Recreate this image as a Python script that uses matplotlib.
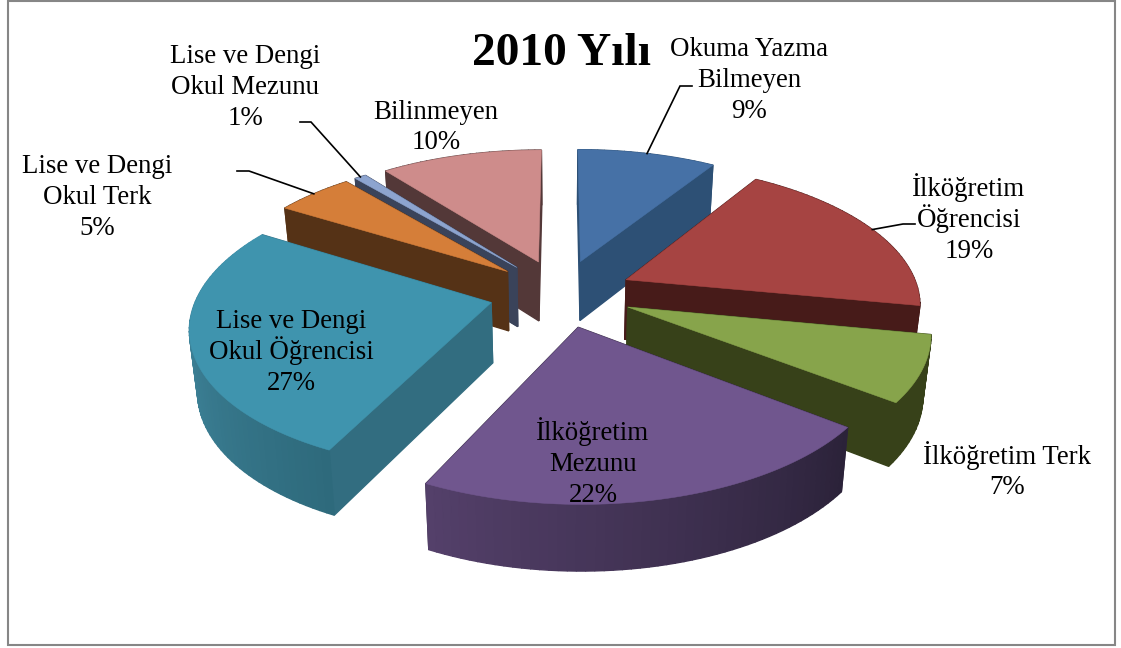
import numpy as np
import matplotlib
matplotlib.use("Agg")
import matplotlib.pyplot as plt
from matplotlib.colors import to_rgb
from matplotlib.patches import Polygon, Rectangle

title = "2010 Yılı"
categories = ["Okuma Yazma\nBilmeyen", "İlköğretim\nÖğrencisi", "İlköğretim Terk", "İlköğretim\nMezunu",
              "Lise ve Dengi\nOkul Öğrencisi", "Lise ve Dengi\nOkul Terk", "Lise ve Dengi\nOkul Mezunu", "Bilinmeyen"]
values = [9.0, 19.0, 7.4, 21.8, 26.51, 5.04, 0.75, 10.5]
top_colors = ["#4671A6", "#A64442", "#87A44B", "#70568E", "#3F94AE", "#D57E39", "#8DA4CF", "#CE8C8B"]
side_colors = ["#2D5075", "#471B19", "#374119", "#33283F", "#326D80", "#553216", "#3A435A", "#533838"]
arc_start = ["#2D5075", "#471B19", "#374119", "#2B2239", "#2E6A7C", "#553216", "#3A435A", "#533838"]
arc_end = ["#2D5075", "#471B19", "#374119", "#54406A", "#4A95AE", "#553216", "#3A435A", "#533838"]
label_pos = [(749, 78), (969, 218), (1007, 470), (593, 462), (291, 350), (97, 195), (245, 85), (436, 125)]
leaders = [[(680, 86), (692, 86)], [(903, 224), (915, 224)], None, None, None,
           [(249, 171), (237, 171)], [(311, 122), (300, 122)], None]

CX, CY, A, B, K, H, EXPLODE = 561, 293, 293, 138, 0.154, 60, 0.246
SHRINK = 0.022

def project(x, y, z=0.0):
    s = 1.0 / (1.0 - K * y)
    return CX + A * x * s * (1 - SHRINK * z), CY + B * y * s + H * z * s ** 0.5

fig = plt.figure(figsize=(11.21, 6.48), dpi=100, facecolor="white")
ax = fig.add_axes([0, 0, 1, 1])
ax.set_xlim(0, 1121)
ax.set_ylim(648, 0)
ax.axis("off")
ax.add_patch(Rectangle((8, 1), 1107, 644, fill=False, ec="#868686", lw=1.5, clip_on=False))

edges = np.cumsum([0] + values) / sum(values) * 2 * np.pi
wedges = []
for i in range(len(values)):
    t0, t1 = edges[i], edges[i + 1]
    mid = (t0 + t1) / 2
    ox, oy = EXPLODE * np.sin(mid), -EXPLODE * np.cos(mid)
    ts = np.linspace(t0, t1, max(4, int((t1 - t0) * 40)))
    xs, ys = ox + np.sin(ts), oy - np.cos(ts)
    wedges.append(dict(i=i, mid=mid, ox=ox, oy=oy, ts=ts, xs=xs, ys=ys))

for w in sorted(wedges, key=lambda d: d["oy"]):
    i, xs, ys, ox, oy = w["i"], w["xs"], w["ys"], w["ox"], w["oy"]
    walls = []
    for j in range(len(xs) - 1):
        f = (j + 0.5) / (len(xs) - 1)
        c = np.array(to_rgb(arc_start[i])) * (1 - f) + np.array(to_rgb(arc_end[i])) * f
        walls.append(((ys[j] + ys[j + 1]) / 2, [(xs[j], ys[j]), (xs[j + 1], ys[j + 1])], tuple(c)))
    for k in (0, -1):
        walls.append(((ys[k] + oy) / 2, [(ox, oy), (xs[k], ys[k])], side_colors[i]))
    for _, seg, c in sorted(walls, key=lambda q: q[0]):
        (x0, y0), (x1, y1) = seg
        poly = [project(x0, y0), project(x1, y1), project(x1, y1, 1), project(x0, y0, 1)]
        ax.add_patch(Polygon(poly, fc=c, ec=c, lw=1.0, zorder=2))
    top = [project(ox, oy)] + [project(a, b) for a, b in zip(xs, ys)]
    ax.add_patch(Polygon(top, fc=top_colors[i], ec=top_colors[i], lw=0.4, zorder=2))

FONT = ["Liberation Serif", "DejaVu Serif"]
for w in wedges:
    i = w["i"]
    lines = f"{categories[i]}\n{values[i]:.0f}%".split("\n")
    for j, line in enumerate(lines):
        y = label_pos[i][1] + (j - (len(lines) - 1) / 2) * 30.8 + 9
        ax.text(label_pos[i][0], y, line, ha="center", va="baseline",
                fontsize=19.4, family=FONT, color="black", zorder=5)
    if leaders[i]:
        px, py = project(w["ox"] + np.sin(w["mid"]), w["oy"] - np.cos(w["mid"]))
        pts = [(px, py)] + leaders[i]
        ax.plot(*zip(*pts), color="black", lw=1.2, zorder=3, solid_joinstyle="miter")

ax.text(561.5, 65, title, ha="center", va="baseline", fontsize=34.2, fontweight="bold", family=FONT, zorder=5)
fig.savefig("out.png", dpi=100, facecolor="white")
